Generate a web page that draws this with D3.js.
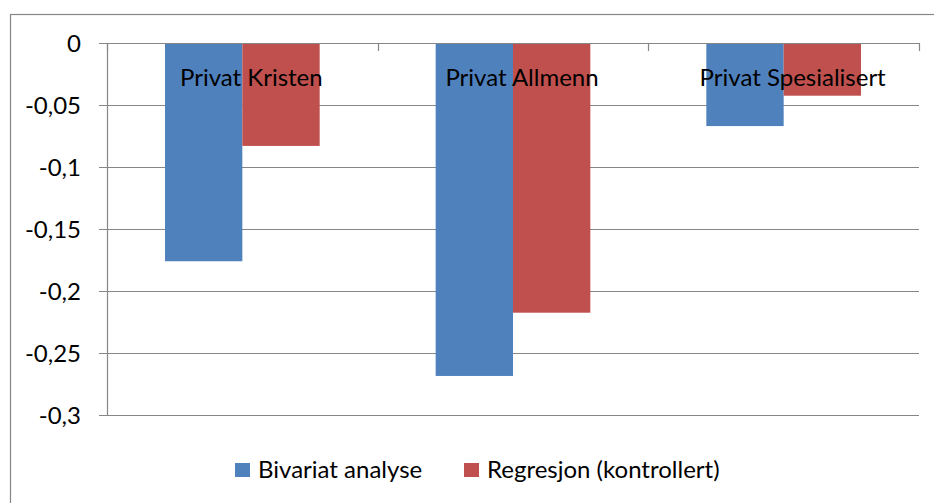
<!DOCTYPE html>
<html>
<head>
<meta charset="utf-8">
<script src="https://cdn.jsdelivr.net/npm/d3@7"></script>
<style>
  body { margin: 0; background: #fff; }
  svg text { font-family: Lato, "Open Sans", sans-serif; fill: #000; }
</style>
</head>
<body>
<svg id="chart" width="934" height="503"></svg>
<script>
// data
var categories = ["Privat Kristen", "Privat Allmenn", "Privat Spesialisert"];
var seriesNames = ["Bivariat analyse", "Regresjon (kontrollert)"];
var bivariat = [-0.176, -0.2685, -0.067];
var regresjon = [-0.083, -0.2175, -0.0425];
var yTicks = [0, -0.05, -0.1, -0.15, -0.2, -0.25, -0.3];
var colors = ["#4F81BD", "#C0504D"];

var svg = d3.select("#chart");
var plotLeft = 107, plotRight = 919, plotTop = 43, plotBottom = 415;
var fontSize = "24px";

// outer chart border
svg.append("rect")
  .attr("x", 10.5).attr("y", 14.5)
  .attr("width", 940).attr("height", 500)
  .attr("fill", "none").attr("stroke", "#868686").attr("stroke-width", 1.2);

var x = d3.scaleBand().domain(categories).range([plotLeft, plotRight]);
var y = d3.scaleLinear().domain([-0.3, 0]).range([plotBottom, plotTop]);
var barW = x.bandwidth() / 3.5; // excel gap width 150%

var fmt = function(d) { return d === 0 ? "0" : String(d).replace(".", ","); };

// gridlines
svg.append("g").selectAll("line")
  .data(yTicks)
  .enter().append("line")
  .attr("x1", plotLeft - 8).attr("x2", plotRight)
  .attr("y1", function(d) { return Math.round(y(d)) + 0.5; })
  .attr("y2", function(d) { return Math.round(y(d)) + 0.5; })
  .attr("stroke", "#868686").attr("stroke-width", 1.2);

// y axis line
svg.append("line")
  .attr("x1", plotLeft + 0.5).attr("x2", plotLeft + 0.5)
  .attr("y1", plotTop).attr("y2", plotBottom)
  .attr("stroke", "#868686").attr("stroke-width", 1.2);

// y tick labels
svg.append("g").selectAll("text")
  .data(yTicks)
  .enter().append("text")
  .attr("x", 81)
  .attr("y", function(d) { return y(d); })
  .attr("dy", "0.36em")
  .attr("text-anchor", "end")
  .style("font-size", fontSize)
  .text(fmt);

// bars
var groups = [bivariat, regresjon];
groups.forEach(function(vals, s) {
  svg.append("g").selectAll("rect")
    .data(vals)
    .enter().append("rect")
    .attr("x", function(d, i) { return x(categories[i]) + x.bandwidth() / 2 - barW + s * barW; })
    .attr("y", y(0))
    .attr("width", barW)
    .attr("height", function(d) { return y(d) - y(0); })
    .attr("fill", colors[s]);
});

// category ticks along the zero line
var catTicks = categories.map(function(c) { return x(c); }).concat([plotRight]);
svg.append("g").selectAll("line")
  .data(catTicks)
  .enter().append("line")
  .attr("x1", function(d) { return Math.round(d) + 0.5; })
  .attr("x2", function(d) { return Math.round(d) + 0.5; })
  .attr("y1", y(0)).attr("y2", y(0) + 8)
  .attr("stroke", "#868686").attr("stroke-width", 1.2);

// redraw zero line over bars
svg.append("line")
  .attr("x1", plotLeft).attr("x2", plotRight)
  .attr("y1", Math.round(y(0)) + 0.5).attr("y2", Math.round(y(0)) + 0.5)
  .attr("stroke", "#868686").attr("stroke-width", 1.2);

// category labels
svg.append("g").selectAll("text")
  .data(categories)
  .enter().append("text")
  .attr("x", function(d) { return x(d) + x.bandwidth() / 2 + 9; })
  .attr("y", 86)
  .attr("text-anchor", "middle")
  .style("font-size", fontSize)
  .text(function(d) { return d; });

// legend
var legendX = [235, 464];
seriesNames.forEach(function(name, s) {
  svg.append("rect")
    .attr("x", legendX[s]).attr("y", 463)
    .attr("width", 15).attr("height", 14)
    .attr("fill", colors[s]);
  svg.append("text")
    .attr("x", legendX[s] + 23).attr("y", 478)
    .style("font-size", fontSize)
    .text(name);
});
</script>
</body>
</html>
